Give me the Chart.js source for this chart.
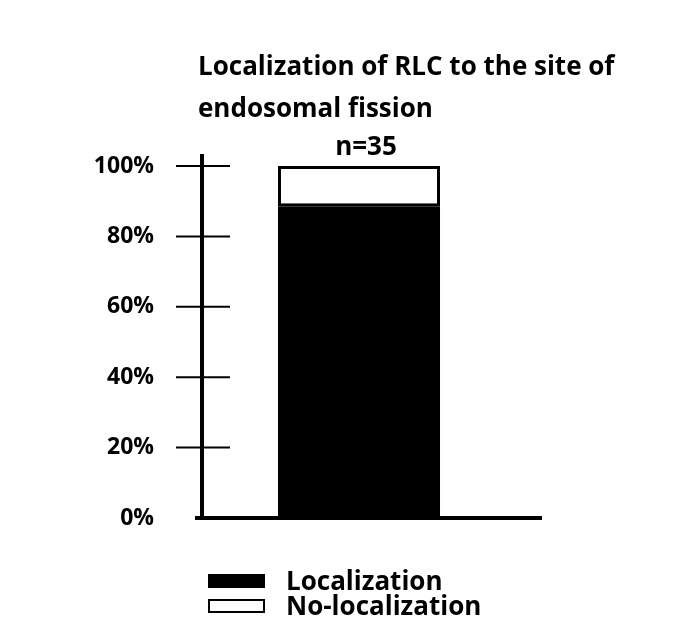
<!DOCTYPE html>
<html><head><meta charset="utf-8">
<script src="https://cdn.jsdelivr.net/npm/chart.js@4"></script>
<style>html,body{margin:0;padding:0;background:#fff}#w{width:682px;height:635px}</style>
</head><body><div id="w"><canvas id="c" width="682" height="635"></canvas></div>
<script>
const categories = ["n=35"];
const localization = [88.6];
const noLocalization = [11.4];
const yTicks = [0,20,40,60,80,100];
const titleLines = ["Localization of RLC to the site of","endosomal fission"];
const FONT = "'Open Sans', sans-serif";

const deco = {
  id:'deco',
  afterDraw(chart){
    const ctx = chart.ctx, y = chart.scales.y;
    ctx.save();
    ctx.strokeStyle='#000'; ctx.lineWidth=4;
    ctx.beginPath(); ctx.moveTo(202, y.getPixelForValue(100)-12); ctx.lineTo(202, y.getPixelForValue(0)+2); ctx.stroke();
    ctx.beginPath(); ctx.moveTo(195, y.getPixelForValue(0)); ctx.lineTo(542, y.getPixelForValue(0)); ctx.stroke();
    ctx.lineWidth=2;
    yTicks.forEach(v=>{ if(v===0) return; const p=y.getPixelForValue(v); ctx.beginPath(); ctx.moveTo(176,p); ctx.lineTo(230,p); ctx.stroke(); });
    ctx.fillStyle='#000'; ctx.font="bold 26px "+FONT; ctx.textAlign='left'; ctx.textBaseline='middle';
    ctx.fillText(titleLines[0],198,68); ctx.fillText(titleLines[1],198,110);
    ctx.textAlign='center'; ctx.fillText(categories[0],366,148);
    ctx.font="bold 26px "+FONT; ctx.textAlign='left';
    chart.data.datasets.forEach((d,i)=>{
      const yy = 581 + i*25;
      ctx.fillStyle=d.backgroundColor; ctx.fillRect(209,yy-6,55,12);
      ctx.lineWidth=2; ctx.strokeStyle='#000'; ctx.strokeRect(209,yy-6,55,12);
      ctx.fillStyle='#000'; ctx.fillText(d.label,286,yy+2);
    });
    ctx.restore();
  }
};

new Chart(document.getElementById('c'),{
  type:'bar',
  data:{labels:categories,datasets:[
    {label:'Localization',data:localization,backgroundColor:'#000',borderColor:'#000',borderWidth:0,barPercentage:0.516,categoryPercentage:1,borderSkipped:false},
    {label:'No-localization',data:noLocalization,backgroundColor:'#fff',borderColor:'#000',borderWidth:3,barPercentage:0.516,categoryPercentage:1,borderSkipped:false}
  ]},
  options:{responsive:false,animation:false,
    layout:{padding:{top:166,left:0,right:166,bottom:117}},
    plugins:{legend:{display:false},tooltip:{enabled:false}},
    scales:{
      x:{stacked:true,display:false},
      y:{stacked:true,min:0,max:100,
        afterFit(s){s.width=202;},
        grid:{display:false},border:{display:false},
        afterBuildTicks(s){s.ticks=yTicks.map(v=>({value:v}));},
        ticks:{padding:40,color:'#000',font:{family:FONT,size:23,weight:'bold'},callback:v=>v+'%'}
      }
    }
  },
  plugins:[deco]
});
</script></body></html>
